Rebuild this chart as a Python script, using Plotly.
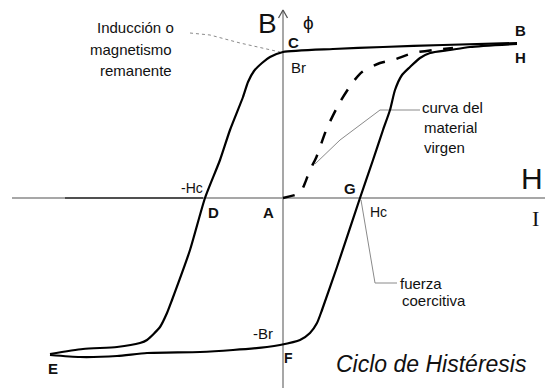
import plotly.graph_objects as go

# ---- Data (drawing units, origin at point A) ----
# Descending branch: B -> C -> D -> E
upper_H = [234, 160, 100, 50, 0, -13, -21, -29, -35, -40, -53, -63, -78, -93, -111, -116, -123, -136, -143, -166, -200, -233]
upper_B = [155, 153, 151, 149, 146, 141, 135, 127, 116, 101, 68, 38, 0, -52, -102, -115, -129, -142, -145, -149, -151, -156]
# Ascending branch: E -> F -> G -> H
lower_H = [-233, -203, -166, -136, -83, -50, -16, -3, 17, 27, 34, 39, 54, 77, 90, 100, 107, 112, 119, 127, 137, 147, 167, 187, 234]
lower_B = [-157, -159, -158, -155, -154, -152, -149, -147, -142, -135, -125, -112, -69, 0, 38, 68, 88, 108, 123, 131, 140, 145, 148, 151, 154]
# Virgin (first magnetisation) curve
virgin_H = [0, 17, 22, 27, 33, 44, 57, 70, 79, 97, 110, 130, 150, 170]
virgin_B = [0, 5, 15, 28, 40, 70, 96, 116, 126, 135, 138, 145, 148, 150]
# Leader lines
lead_rem_H = [-93, -73, -43, -13, -3]
lead_rem_B = [165, 163, 155, 148, 146]
lead_vir_H = [137, 97, 57, 32]
lead_vir_B = [88, 88, 58, 34]
lead_coe_H = [78, 92, 114]
lead_coe_B = [-2, -85, -85]
# Axes extents
axis_H = [-271, 262]
axis_B = [-190, 188]
arrow_H = [-4.5, 0, 4.5]
arrow_B = [180, 188, 180]

GREY = "#8a8a8a"
fig = go.Figure()

def line(x, y, color="black", width=2.2, dash=None, shape="linear"):
    fig.add_trace(go.Scatter(x=x, y=y, mode="lines", hoverinfo="skip", showlegend=False,
                             line=dict(color=color, width=width, dash=dash, shape=shape,
                                       smoothing=0.6 if shape == "spline" else None)))

# axes
line(axis_H, [0, 0], color=GREY, width=1.5)
line([-218, -80], [0, 0], color="#333", width=1.5)
line([0, 0], axis_B, color=GREY, width=1.5)
line(arrow_H, arrow_B, color="#555", width=1.3)
# leaders
line(lead_rem_H, lead_rem_B, color=GREY, width=1, dash="dot")
line(lead_vir_H, lead_vir_B, color=GREY, width=1)
line(lead_coe_H, lead_coe_B, color=GREY, width=1)
# curves
line(virgin_H, virgin_B, color="black", width=2.5, dash="12px,12px", shape="spline")
line(upper_H, upper_B, width=2.2, shape="spline")
line(lower_H, lower_B, width=2.2, shape="spline")

SANS = "Liberation Sans, Arial, sans-serif"
def label(text, x, y, size=15, bold=False, italic=False, family=SANS, xanchor="center", color="#111"):
    fig.add_annotation(x=x, y=y, text=text, showarrow=False, xanchor=xanchor, yanchor="middle",
                       font=dict(size=size, family=family, color=color,
                                 weight="bold" if bold else "normal",
                                 style="italic" if italic else "normal"))

label("B", -16, 175, size=28)
label("ϕ", 25, 176, size=19)
label("C", 10, 156, size=15, bold=True)
label("Br", 15, 131, size=15)
label("B", 237, 168, size=15, bold=True)
label("H", 237, 141, size=15, bold=True)
label("Inducción o", -148, 171)
label("magnetismo", -152, 149)
label("remanente", -147, 128)
label("curva del", 169, 91)
label("material", 167, 71)
label("virgen", 161, 51)
label("H", 262, 20, size=30, xanchor="right")
label("I", 258, -20, size=22, family="Liberation Serif, serif", xanchor="right")
label("-Hc", -91, 10, size=14)
label("D", -70, -14, size=15, bold=True)
label("A", -15, -14, size=15, bold=True)
label("G", 67, 10, size=15, bold=True)
label("Hc", 95, -14, size=14)
label("-Br", -20, -135, size=15)
label("F", 5, -160, size=14, bold=True)
label("E", -230, -170, size=15, bold=True)
label("fuerza", 115, -85, xanchor="left")
label("coercitiva", 117, -102, xanchor="left")
label("Ciclo de Histéresis", 148, -166, size=23, italic=True)

fig.update_layout(
    width=545, height=388, margin=dict(l=0, r=0, t=0, b=0),
    paper_bgcolor="white", plot_bgcolor="white",
    xaxis=dict(range=[-283, 262], visible=False, fixedrange=True),
    yaxis=dict(range=[-190, 198], visible=False, fixedrange=True),
)
fig.write_html("out.html", config={"displayModeBar": False},
               post_script="document.body.style.margin='0';document.body.style.overflow='hidden';")
